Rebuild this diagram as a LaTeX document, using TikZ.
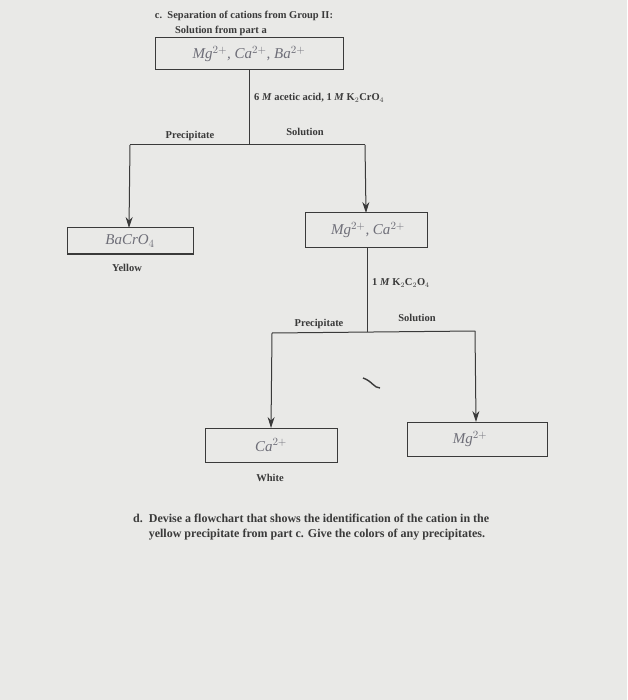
\documentclass[tikz,border=0pt]{standalone}
\usepackage{fontspec}
\setmainfont{Liberation Serif}
\usetikzlibrary{arrows.meta}
\definecolor{paper}{HTML}{E9E9E7}
\definecolor{ink}{HTML}{3A3A3A}
\definecolor{pen}{HTML}{6E6E78}
\begin{document}
\begin{tikzpicture}[x=1pt,y=-1pt,
  lbl/.style={font=\fontsize{10.5}{12}\selectfont\bfseries, text=ink, inner sep=1pt},
  hand/.style={font=\fontsize{15}{16}\selectfont\itshape, text=pen},
  bx/.style={draw=ink, line width=1pt},
  ln/.style={draw=ink, line width=1pt},
  arr/.style={ln, -{Stealth[length=11pt,width=7pt]}}]
\fill[paper] (0,0) rectangle (627,700);
\node[lbl] (title) at (244,16) {c.\ \ Separation of cations from Group II:};
\node[lbl] (src) at (221,31) {Solution from part a};
\draw[bx] (155,38) rectangle (343,70);
\node[hand] (b1) at (249,54) {Mg$^{2+}$, Ca$^{2+}$, Ba$^{2+}$};
\coordinate (j1) at (249,145);
\draw[ln] (249,70) -- (j1);
\node[lbl, anchor=west] (r1) at (253,98) {6 \textit{M} acetic acid, 1 \textit{M} K$_2$CrO$_4$};
\draw[ln] (130,145) -- (365,145);
\node[lbl] (p1) at (190,136) {Precipitate};
\node[lbl] (s1) at (305,132) {Solution};
\draw[arr] (130,145) -- (129,228);
\draw[arr] (365,145) -- (366,213);
\draw[bx] (67,228) rectangle (193,254);
\node[hand] (b2) at (130,241) {BaCrO$_4$};
\node[lbl] (y) at (127,268) {Yellow};
\draw[bx] (305,213) rectangle (427,248);
\node[hand] (b3) at (368,230) {Mg$^{2+}$, Ca$^{2+}$};
\draw[ln] (367,248) -- (367,332);
\node[lbl, anchor=west] (r2) at (371,283) {1 \textit{M} K$_2$C$_2$O$_4$};
\draw[ln] (272,333) -- (475,331);
\node[lbl] (p2) at (319,324) {Precipitate};
\node[lbl] (s2) at (417,318) {Solution};
\draw[arr] (272,333) -- (271,428);
\draw[arr] (475,331) -- (476,422);
\draw[bx] (205,428) rectangle (337,462);
\node[hand] (b4) at (271,445) {Ca$^{2+}$};
\node[lbl] (w) at (270,478) {White};
\draw[bx] (407,422) rectangle (547,456);
\node[hand] (b5) at (470,439) {Mg$^{2+}$};
\draw[ink, line width=1.4pt] (363,378) .. controls (372,381) and (374,388) .. (380,388);
\node[anchor=north west, align=left, font=\fontsize{12}{15}\selectfont\bfseries, text=ink, inner sep=0pt] (d) at (133,514)
  {d.\ \ Devise a flowchart that shows the identification of the cation in the\\
   \hspace*{1.3em}yellow precipitate from part c. Give the colors of any precipitates.};
\end{tikzpicture}
\end{document}
